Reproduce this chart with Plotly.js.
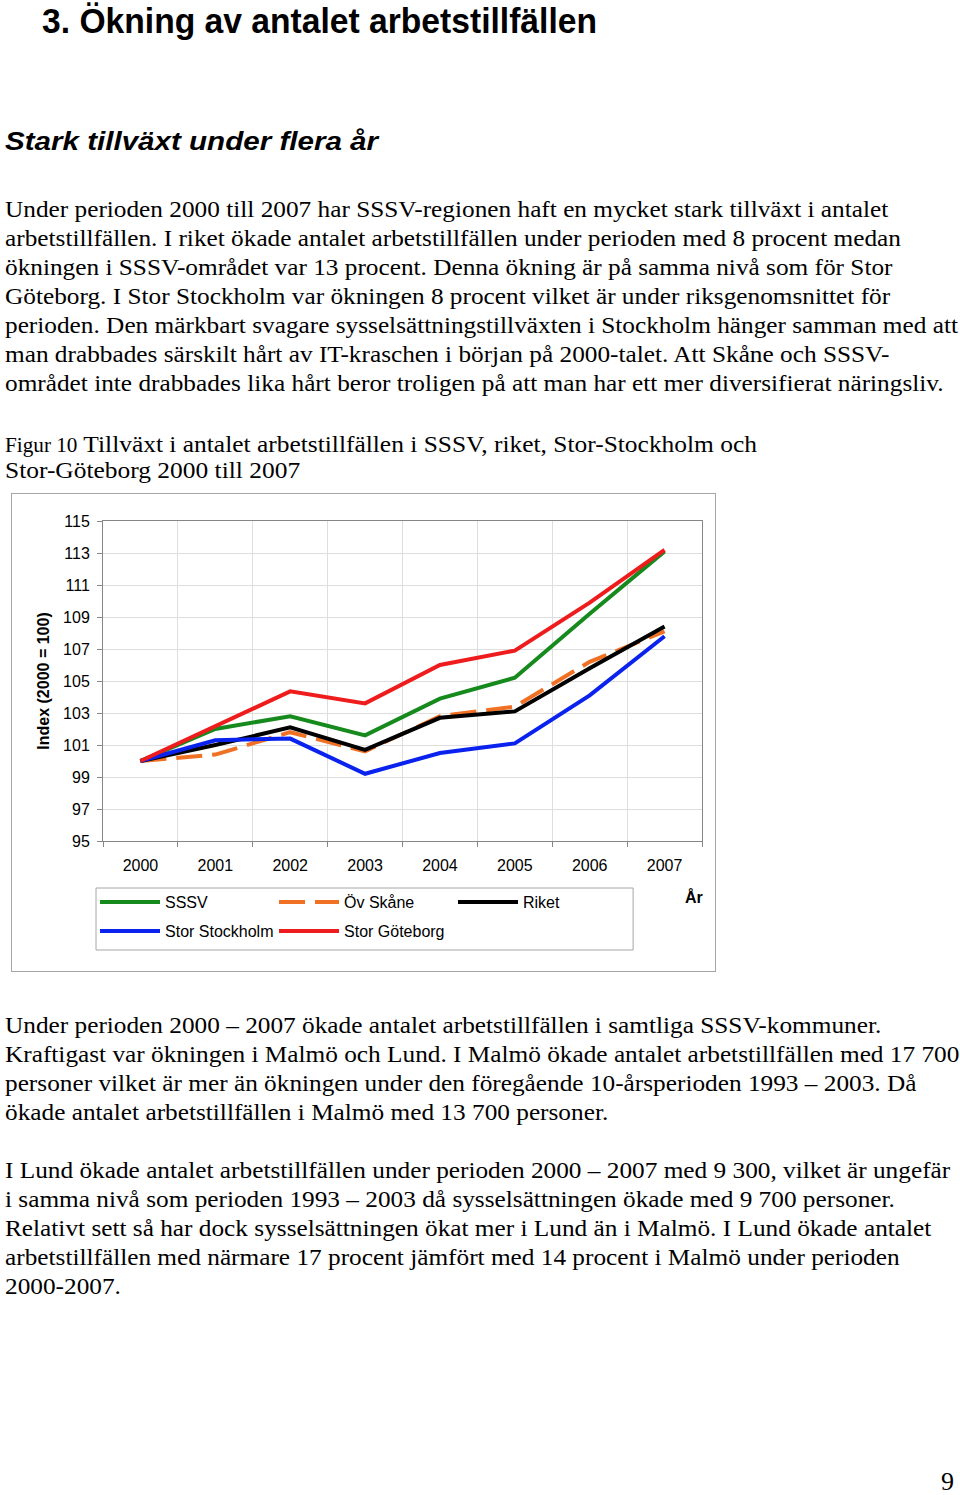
<!DOCTYPE html>
<html>
<head>
<meta charset="utf-8">
<script src="https://cdn.plot.ly/plotly-3.0.1.min.js"></script>
<style>
html,body{margin:0;padding:0;background:#fff;}
body{width:960px;height:1495px;position:relative;overflow:hidden;}
.t{position:absolute;white-space:nowrap;transform-origin:0 0;color:#000;}
#chartbox{position:absolute;left:11px;top:493px;width:705px;height:479px;border:1px solid #a6a6a6;box-sizing:border-box;}
#chart{position:absolute;left:0;top:0;width:703px;height:477px;}
</style>
</head>
<body>
<div id="chartbox"><div id="chart"></div></div>
<script>
// ---- chart data ----
const years = ['2000','2001','2002','2003','2004','2005','2006','2007'];
const seriesNames = ['SSSV','Öv Skåne','Riket','Stor Stockholm','Stor Göteborg'];
const sssv      = [100, 102.0, 102.8, 101.6, 103.9, 105.2, 109.2, 113.1];
const ovSkane   = [100, 100.4, 101.8, 100.6, 102.8, 103.4, 106.2, 108.1];
const riket     = [100, 101.0, 102.1, 100.7, 102.7, 103.1, 105.8, 108.4];
const stockholm = [100, 101.3, 101.4,  99.2, 100.5, 101.1, 104.1, 107.8];
const goteborg  = [100, 102.2, 104.35, 103.6, 106.0, 106.9, 109.9, 113.2];
const yTickVals = [95, 97, 99, 101, 103, 105, 107, 109, 111, 113, 115];
const yTitle = 'Index (2000 = 100)';
const xTitle = 'År';

// ---- page text ----
const pageTitle = '3. Ökning av antalet arbetstillfällen';
const subTitle = 'Stark tillväxt under flera år';
const para1 = [
 'Under perioden 2000 till 2007 har SSSV-regionen haft en mycket stark tillväxt i antalet',
 'arbetstillfällen. I riket ökade antalet arbetstillfällen under perioden med 8 procent medan',
 'ökningen i SSSV-området var 13 procent. Denna ökning är på samma nivå som för Stor',
 'Göteborg. I Stor Stockholm var ökningen 8 procent vilket är under riksgenomsnittet för',
 'perioden. Den märkbart svagare sysselsättningstillväxten i Stockholm hänger samman med att',
 'man drabbades särskilt hårt av IT-kraschen i början på 2000-talet. Att Skåne och SSSV-',
 'området inte drabbades lika hårt beror troligen på att man har ett mer diversifierat näringsliv.'
];
const captionSmall = 'Figur 10';
const captionLines = [
 'Tillväxt i antalet arbetstillfällen i SSSV, riket, Stor-Stockholm och',
 'Stor-Göteborg 2000 till 2007'
];
const para2 = [
 'Under perioden 2000 – 2007 ökade antalet arbetstillfällen i samtliga SSSV-kommuner.',
 'Kraftigast var ökningen i Malmö och Lund. I Malmö ökade antalet arbetstillfällen med 17 700',
 'personer vilket är mer än ökningen under den föregående 10-årsperioden 1993 – 2003. Då',
 'ökade antalet arbetstillfällen i Malmö med 13 700 personer.'
];
const para3 = [
 'I Lund ökade antalet arbetstillfällen under perioden 2000 – 2007 med 9 300, vilket är ungefär',
 'i samma nivå som perioden 1993 – 2003 då sysselsättningen ökade med 9 700 personer.',
 'Relativt sett så har dock sysselsättningen ökat mer i Lund än i Malmö. I Lund ökade antalet',
 'arbetstillfällen med närmare 17 procent jämfört med 14 procent i Malmö under perioden',
 '2000-2007.'
];
const pageNumber = '9';

const SERIF = '"Liberation Serif","Times New Roman",serif';
const SANS = '"Liberation Sans",Arial,sans-serif';

function addText(html, x, baseline, family, size, weight, style, k) {
  const d = document.createElement('div');
  d.className = 't';
  d.innerHTML = html;
  d.style.left = x + 'px';
  d.style.fontFamily = family;
  d.style.fontSize = size + 'px';
  d.style.lineHeight = size + 'px';
  d.style.fontWeight = weight || 'normal';
  d.style.fontStyle = style || 'normal';
  d.style.top = (baseline - k * size) + 'px';
  document.body.appendChild(d);
  return d;
}
function fit(d, w) {
  const nat = d.getBoundingClientRect().width;
  const s = w / nat;
  d.style.transform = 'scaleX(' + s + ')';
  return s;
}
function scaleBy(d, s) { d.style.transform = 'scaleX(' + s + ')'; }

const kSerif = 0.8375, kSans = 0.8465;

// headings
fit(addText(pageTitle, 42, 33, SANS, 35, 'bold', 'normal', kSans), 555);
fit(addText(subTitle, 5, 150, SANS, 25, 'bold', 'italic', kSans), 373);

// body paragraphs
const bodySize = 23;
const bodyEls = [];
para1.forEach((l, i) => bodyEls.push(addText(l, 5, 217 + 29 * i, SERIF, bodySize, 'normal', 'normal', kSerif)));
para2.forEach((l, i) => bodyEls.push(addText(l, 5, 1033 + 29 * i, SERIF, bodySize, 'normal', 'normal', kSerif)));
para3.forEach((l, i) => bodyEls.push(addText(l, 5, 1178 + 29 * i, SERIF, bodySize, 'normal', 'normal', kSerif)));
const sBody = 953 / bodyEls[4].getBoundingClientRect().width;
bodyEls.forEach(e => scaleBy(e, sBody));

// caption
const cap1 = addText('<span style="font-size:20px">' + captionSmall + '</span> ' + captionLines[0], 5, 451.7, SERIF, 24, 'normal', 'normal', kSerif);
const sCap = fit(cap1, 752);
scaleBy(addText(captionLines[1], 5, 478.5, SERIF, 24, 'normal', 'normal', kSerif), sCap);

// page number
addText(pageNumber, 941, 1491, SERIF, 26, 'normal', 'normal', kSerif);

// ---- chart ----
const colors = ['#178a1e', '#f07024', '#000000', '#0a22ee', '#ee1c1c'];
const values = [sssv, ovSkane, riket, stockholm, goteborg];
const dashes = ['solid', '26px,10px', 'solid', 'solid', 'solid'];
const legends = ['legend', 'legend', 'legend', 'legend2', 'legend2'];
const traces = values.map((v, i) => ({
  type: 'scatter', mode: 'lines', x: years, y: v, name: seriesNames[i],
  line: {color: colors[i], width: 4, dash: dashes[i]},
  legend: legends[i], hoverinfo: 'skip'
}));

const PL = 600, PH = 320; // plot area px
const legendCommon = {
  orientation: 'h', xanchor: 'left', yanchor: 'top', x: -8 / PL,
  bgcolor: 'rgba(0,0,0,0)', borderwidth: 0, itemwidth: 60,
  entrywidth: 104, entrywidthmode: 'pixels', font: {size: 16, color: '#000'},
  traceorder: 'normal', itemclick: false, itemdoubleclick: false
};
const layout = {
  width: 703, height: 477,
  margin: {l: 91, r: 13, t: 27, b: 130, autoexpand: false},
  paper_bgcolor: '#ffffff', plot_bgcolor: '#ffffff',
  font: {family: SANS, size: 16, color: '#000'},
  showlegend: true,
  xaxis: {
    type: 'category', range: [-0.5, 7.5], tickson: 'boundaries',
    ticks: 'outside', ticklen: 5, tickcolor: '#868686', tickwidth: 1,
    showgrid: true, gridcolor: '#dedede', gridwidth: 1,
    showline: true, linecolor: '#868686', linewidth: 1, mirror: true,
    ticklabelstandoff: 10, zeroline: false, fixedrange: true
  },
  yaxis: {
    range: [95, 115], tickvals: yTickVals,
    ticks: 'outside', ticklen: 5, tickcolor: '#868686', tickwidth: 1,
    showgrid: true, gridcolor: '#dedede', gridwidth: 1,
    showline: true, linecolor: '#868686', linewidth: 1, mirror: true,
    ticklabelstandoff: 4, zeroline: false, fixedrange: true,
    title: {text: yTitle, font: {size: 16, weight: 'bold', color: '#000'}, standoff: 9}
  },
  legend: Object.assign({}, legendCommon, {y: -44 / PH}),
  legend2: Object.assign({}, legendCommon, {y: -73 / PH}),
  shapes: [{
    type: 'rect', xref: 'paper', yref: 'paper',
    x0: -7 / PL, x1: 531 / PL, y0: -109 / PH, y1: -47 / PH,
    line: {color: '#a6a6a6', width: 1}, fillcolor: 'rgba(0,0,0,0)', layer: 'below'
  }],
  annotations: [{
    text: xTitle, xref: 'paper', yref: 'paper', x: 591.5 / PL, y: -56 / PH,
    xanchor: 'center', yanchor: 'middle', showarrow: false,
    font: {size: 16, weight: 'bold', color: '#000'}
  }]
};
Plotly.newPlot('chart', traces, layout, {displayModeBar: false, staticPlot: true});
</script>
</body>
</html>
